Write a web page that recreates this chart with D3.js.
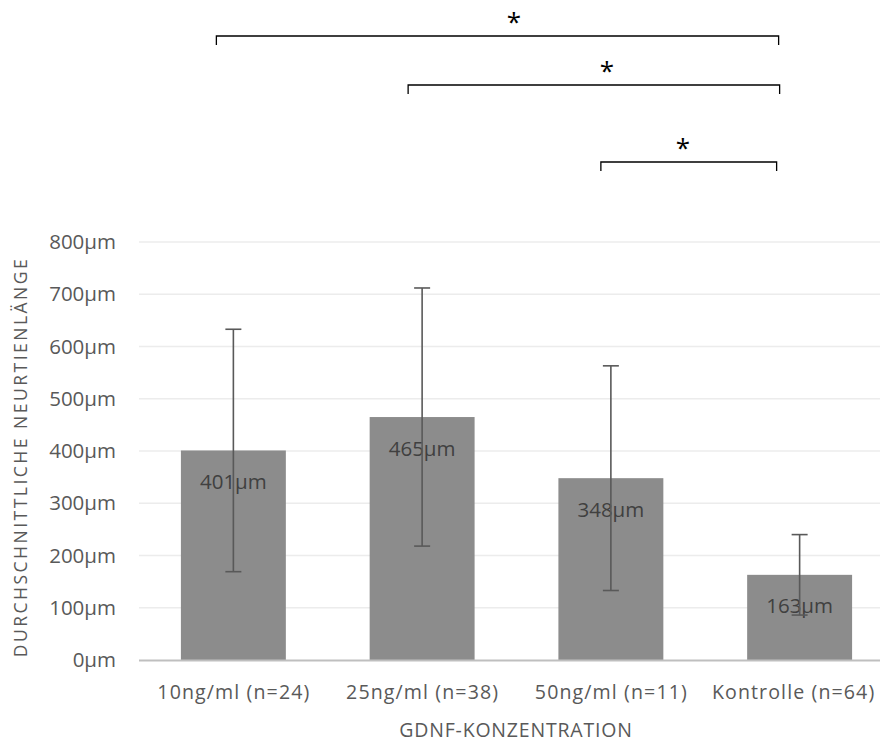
<!DOCTYPE html>
<html>
<head>
<meta charset="utf-8">
<script src="https://cdn.jsdelivr.net/npm/d3@7"></script>
<style>
  body { margin: 0; background: #fff; }
  text { font-family: "Open Sans", sans-serif; }
</style>
</head>
<body>
<script>
// data
let categories = ["10ng/ml (n=24)", "25ng/ml (n=38)", "50ng/ml (n=11)", "Kontrolle (n=64)"];
let means = [401, 465, 348, 163];
let errors = [232, 247, 215, 77];
let yTicks = [0, 100, 200, 300, 400, 500, 600, 700, 800];

// significance brackets: from category index to category index
let compFrom = [0, 1, 2];
let compTo = [3, 3, 3];
let compLabel = ["*", "*", "*"];

let svgWidth = 883;
let svgHeight = 742;

let plot = { left: 139, right: 880, top: 242, bottom: 660 };

let svg = d3.select("body")
    .append("svg")
    .attr("width", svgWidth)
    .attr("height", svgHeight);

let xScale = d3.scaleBand()
    .domain(categories)
    .range([plot.left, 894])
    .paddingInner(0.444)
    .paddingOuter(0.222);

let yScale = d3.scaleLinear()
    .domain([0, 800])
    .range([plot.bottom, plot.top]);

// gridlines
svg.append("g")
    .selectAll("line")
    .data(yTicks.slice(1))
    .enter()
    .append("line")
    .attr("x1", plot.left)
    .attr("x2", plot.right)
    .attr("y1", d => yScale(d))
    .attr("y2", d => yScale(d))
    .attr("stroke", "#ececec")
    .attr("stroke-width", 1.3);

// y axis labels
let yAxis = d3.axisLeft(yScale)
    .tickValues(yTicks)
    .tickSize(0)
    .tickPadding(0)
    .tickFormat(d => d + "µm");

svg.append("g")
    .attr("transform", "translate(116,0)")
    .call(yAxis)
    .call(g => g.select(".domain").remove())
    .selectAll("text")
    .attr("font-size", 20.5)
    .attr("fill", "#595959");

// bars
svg.append("g")
    .selectAll("rect")
    .data(means)
    .enter()
    .append("rect")
    .attr("x", (d, i) => xScale(categories[i]))
    .attr("y", d => yScale(d))
    .attr("width", xScale.bandwidth())
    .attr("height", d => yScale(0) - yScale(d))
    .attr("fill", "#8c8c8c");

// x axis line
svg.append("line")
    .attr("x1", plot.left)
    .attr("x2", plot.right)
    .attr("y1", yScale(0) + 0.5)
    .attr("y2", yScale(0) + 0.5)
    .attr("stroke", "#bfbfbf")
    .attr("stroke-width", 2);

// data labels
svg.append("g")
    .selectAll("text")
    .data(means)
    .enter()
    .append("text")
    .attr("x", (d, i) => xScale(categories[i]) + xScale.bandwidth() / 2)
    .attr("y", d => yScale(d) + 38.5)
    .attr("text-anchor", "middle")
    .attr("font-size", 20.5)
    .attr("fill", "#404040")
    .text(d => d + "µm");

// error bars
let err = svg.append("g")
    .attr("stroke", "#595959")
    .attr("stroke-width", 1.6);

means.forEach(function (m, i) {
    let cx = xScale(categories[i]) + xScale.bandwidth() / 2;
    let hi = yScale(m + errors[i]);
    let lo = yScale(m - errors[i]);
    err.append("line").attr("x1", cx).attr("x2", cx).attr("y1", hi).attr("y2", lo);
    err.append("line").attr("x1", cx - 8).attr("x2", cx + 8).attr("y1", hi).attr("y2", hi);
    err.append("line").attr("x1", cx - 8).attr("x2", cx + 8).attr("y1", lo).attr("y2", lo);
});

// category labels
svg.append("g")
    .selectAll("text")
    .data(categories)
    .enter()
    .append("text")
    .attr("x", (d, i) => xScale(d) + xScale.bandwidth() / 2 + (i == 3 ? -6 : 0.5))
    .attr("y", 699)
    .attr("text-anchor", "middle")
    .attr("font-size", 19.6)
    .attr("letter-spacing", 1.1)
    .attr("fill", "#595959")
    .text(d => d);

// axis titles
svg.append("text")
    .attr("x", 516)
    .attr("y", 736.5)
    .attr("text-anchor", "middle")
    .attr("font-size", 19.5)
    .attr("letter-spacing", 0.8)
    .attr("fill", "#595959")
    .text("GDNF-KONZENTRATION");

svg.append("text")
    .attr("transform", "translate(27,457) rotate(-90)")
    .attr("text-anchor", "middle")
    .attr("font-size", 17.5)
    .attr("letter-spacing", 2.5)
    .attr("fill", "#595959")
    .text("DURCHSCHNITTLICHE NEURTIENLÄNGE");

// significance brackets
let bracketY = [36, 85, 162];
let leftOff = [-17, -14, -10];
let rightOff = [-21, -20, -23];

let br = svg.append("g");
compFrom.forEach(function (f, i) {
    let x1 = xScale(categories[f]) + xScale.bandwidth() / 2 + leftOff[i];
    let x2 = xScale(categories[compTo[i]]) + xScale.bandwidth() / 2 + rightOff[i];
    let y = bracketY[i];
    br.append("path")
        .attr("d", "M" + x1 + "," + (y + 9) + "V" + y + "H" + x2 + "V" + (y + 9))
        .attr("fill", "none")
        .attr("stroke", "#000")
        .attr("stroke-width", 1.3);
    br.append("text")
        .attr("x", [514, 607, 683][i])
        .attr("y", y - 5)
        .attr("text-anchor", "middle")
        .attr("font-family", "DejaVu Serif")
        .attr("font-size", 26)
        .attr("fill", "#000")
        .text(compLabel[i]);
});
</script>
</body>
</html>
